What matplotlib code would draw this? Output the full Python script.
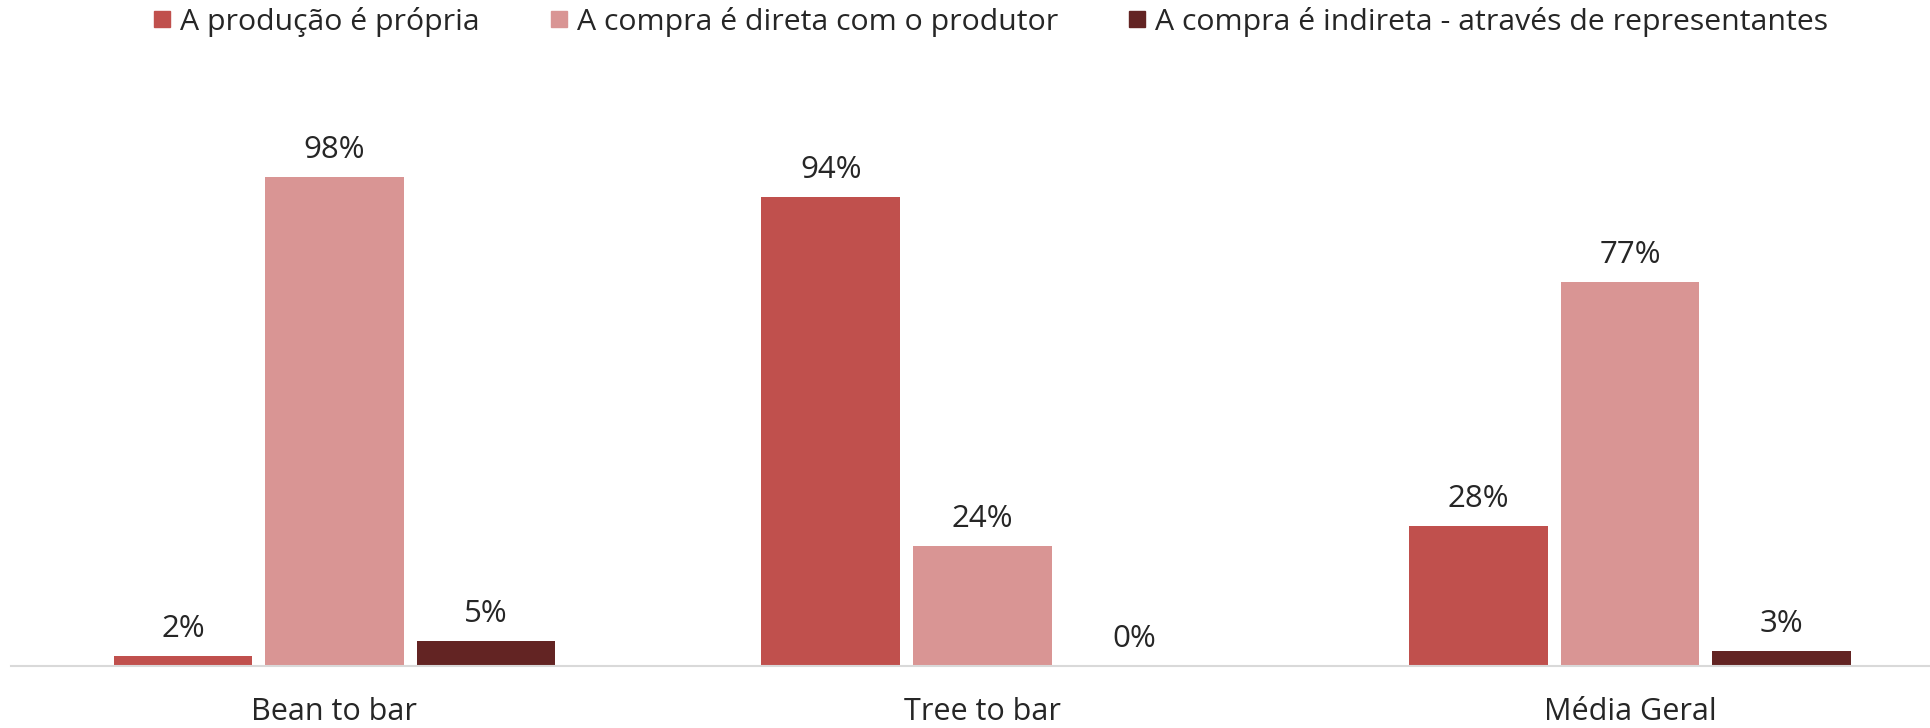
import matplotlib
matplotlib.use("Agg")
import matplotlib.pyplot as plt
from matplotlib.lines import Line2D
import numpy as np

categories = ["Bean to bar", "Tree to bar", "Média Geral"]
series_names = ["A produção é própria",
                "A compra é direta com o produtor",
                "A compra é indireta - através de representantes"]
propria = [2, 94, 28]
direta = [98, 24, 77]
indireta = [5, 0, 3]
colors = ["#C0504D", "#D99594", "#632423"]

plt.rcParams['font.family'] = ['Open Sans', 'DejaVu Sans']
text_color = "#262626"

W, H = 1931, 728
fig = plt.figure(figsize=(W / 100, H / 100), dpi=100)
ax = fig.add_axes([10.5 / W, (H - 665.5) / H, 1943.5 / W, 498.7 / H])

x = np.arange(len(categories))
width = 0.214
offset = 0.234
for i, (vals, col) in enumerate(zip([propria, direta, indireta], colors)):
    pos = x + (i - 1) * offset
    ax.bar(pos, vals, width=width, color=col, label=series_names[i], zorder=2)
    for p, v in zip(pos, vals):
        ax.annotate(f"{v}%", (p, v), xytext=(0, 13.5), textcoords="offset points",
                    ha="center", va="baseline", fontsize=22.5, color=text_color)

ax.set_xlim(-0.5, len(categories) - 0.5)
ax.set_ylim(0, 100)
ax.set_yticks([])
ax.set_xticks(x)
ax.set_xticklabels(categories, fontsize=22, color=text_color)
ax.tick_params(axis="x", length=0, pad=23)
for s in ["top", "right", "left"]:
    ax.spines[s].set_visible(False)
ax.spines["bottom"].set_color("#D9D9D9")
ax.spines["bottom"].set_linewidth(1.5)

handles = [Line2D([], [], marker="s", linestyle="none", markersize=12,
                  markerfacecolor=c, markeredgecolor=c) for c in colors]
fig.legend(handles, series_names, loc="center", bbox_to_anchor=(0.513, 1 - 22 / H),
           ncol=3, frameon=False, fontsize=21.8, handlelength=0.6,
           handletextpad=0.3, columnspacing=2.3, labelcolor=text_color)

fig.savefig("out.png", dpi=100)
